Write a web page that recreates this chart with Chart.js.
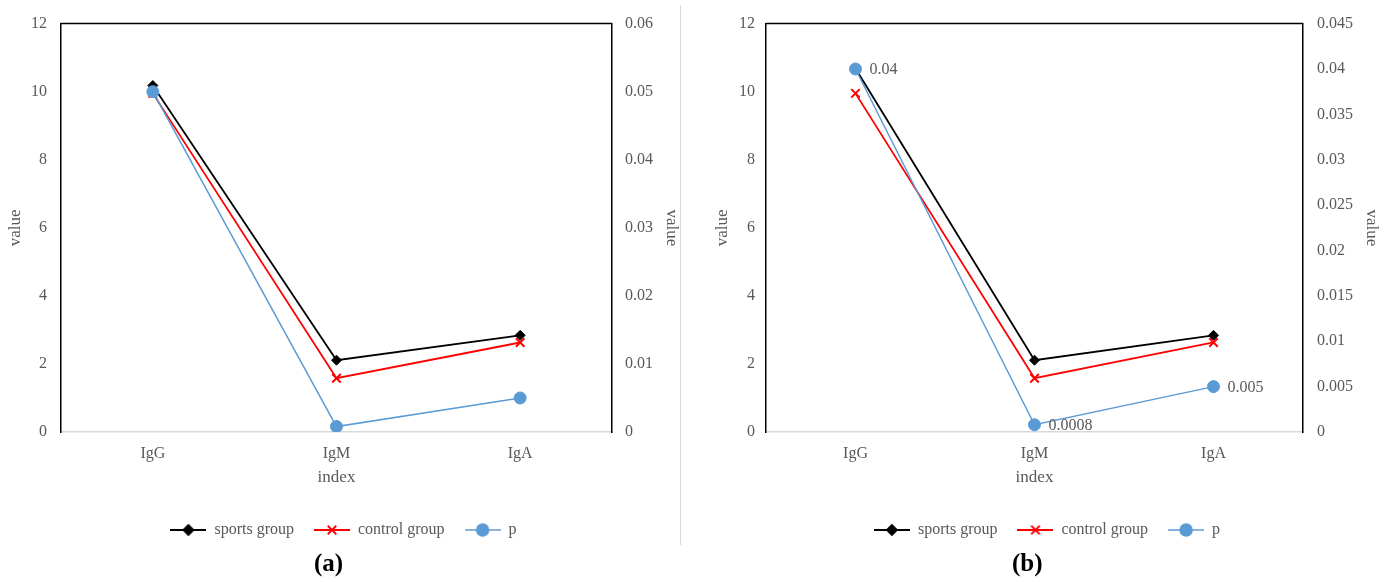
<!DOCTYPE html>
<html>
<head>
<meta charset="utf-8">
<script src="https://cdn.jsdelivr.net/npm/chart.js@4.4.0/dist/chart.umd.min.js"></script>
<style>
  body { margin: 0; background: #fff; width: 1391px; height: 582px; position: relative; overflow: hidden; }
  .box { position: absolute; top: 0; height: 550px; }
  #boxA { left: 0; width: 680px; }
  #boxB { left: 681px; width: 710px; }
  .divider { position: absolute; left: 680px; top: 5px; width: 1px; height: 540px; background: #d9d9d9; }
  .tag { position: absolute; top: 549px; font: bold 25px "Liberation Serif", serif; color: #000; }
</style>
</head>
<body>
<div class="box" id="boxA"><canvas id="chartA" width="680" height="550"></canvas></div>
<div class="divider"></div>
<div class="box" id="boxB"><canvas id="chartB" width="710" height="550"></canvas></div>
<div class="tag" style="left:314px">(a)</div>
<div class="tag" style="left:1012px">(b)</div>
<script>
const categories = ['IgG', 'IgM', 'IgA']
const seriesNames = ['sports group', 'control group', 'p']

// figure (a)
const sportsA = [10.18, 2.11, 2.84]
const controlA = [9.95, 1.58, 2.63]
const pA = [0.05, 0.0008, 0.005]

// figure (b)
const sportsB = [10.68, 2.11, 2.84]
const controlB = [9.95, 1.58, 2.63]
const pB = [0.04, 0.0008, 0.005]
const pLabelsB = ['0.04', '0.0008', '0.005']

const leftTicks = ['0', '2', '4', '6', '8', '10', '12']
const rightTicksA = ['0', '0.01', '0.02', '0.03', '0.04', '0.05', '0.06']
const rightTicksB = ['0', '0.005', '0.01', '0.015', '0.02', '0.025', '0.03', '0.035', '0.04', '0.045']

const gray = '#595959'
const serif = '"Liberation Serif", "Times New Roman", serif'

const styles = [
    { color: '#000000', pointStyle: 'rectRot', radius: 5, width: 1.8, pointBorder: 1 },
    { color: '#ff0000', pointStyle: 'crossRot', radius: 6, width: 1.8, pointBorder: 2 },
    { color: '#5b9bd5', pointStyle: 'circle', radius: 6, width: 1.5, pointBorder: 1 }
]

function legendIcon(st) {
    const c = document.createElement('canvas')
    c.width = 36
    c.height = 14
    const g = c.getContext('2d')
    g.strokeStyle = st.color
    g.lineWidth = st.width
    g.beginPath()
    g.moveTo(0, 7)
    g.lineTo(36, 7)
    g.stroke()
    g.fillStyle = st.color
    Chart.helpers.drawPoint(g, {
        pointStyle: st.pointStyle,
        radius: st.radius,
        borderWidth: st.pointBorder,
        rotation: 0
    }, 18, 7)
    if (st.pointStyle !== 'crossRot') g.fill()
    return c
}

const frame = {
    id: 'frame',
    afterDraw(chart) {
        const { ctx, chartArea } = chart
        ctx.save()
        ctx.strokeStyle = '#000'
        ctx.lineWidth = 1.5
        ctx.beginPath()
        ctx.moveTo(chartArea.left, chartArea.top)
        ctx.lineTo(chartArea.right, chartArea.top)
        ctx.stroke()
        ctx.restore()
    }
}

const pointText = {
    id: 'pointText',
    afterDatasetsDraw(chart, args, opts) {
        if (!opts.labels) return
        const meta = chart.getDatasetMeta(2)
        const ctx = chart.ctx
        ctx.save()
        ctx.font = '16px ' + serif
        ctx.fillStyle = gray
        ctx.textAlign = 'left'
        ctx.textBaseline = 'middle'
        meta.data.forEach((pt, i) => {
            ctx.fillText(opts.labels[i], pt.x + 14, pt.y + 1)
        })
        ctx.restore()
    }
}

function makeDataset(i, values, axis) {
    const st = styles[i]
    return {
        label: seriesNames[i],
        data: values,
        yAxisID: axis,
        borderColor: st.color,
        backgroundColor: st.color,
        borderWidth: st.width,
        pointStyle: st.pointStyle,
        pointRadius: st.radius,
        pointBorderWidth: st.pointBorder,
        pointBackgroundColor: st.color,
        pointBorderColor: st.color,
        tension: 0,
        order: 3 - i
    }
}

function criarGrafico(canvasId, sports, control, p, rightTicks, rightMax, rightStep, cfg) {
    const ctx = document.getElementById(canvasId)
    return new Chart(ctx, {
        type: 'line',
        data: {
            labels: categories,
            datasets: [
                makeDataset(0, sports, 'y'),
                makeDataset(1, control, 'y'),
                makeDataset(2, p, 'y1')
            ]
        },
        options: {
            responsive: false,
            animation: false,
            layout: { padding: { top: 22, left: cfg.padLeft, right: cfg.padRight, bottom: 2 } },
            plugins: {
                tooltip: { enabled: false },
                pointText: { labels: cfg.pointLabels },
                legend: {
                    position: 'bottom',
                    labels: {
                        usePointStyle: true,
                        pointStyleWidth: 36,
                        padding: 20,
                        color: gray,
                        font: { family: serif, size: 16 },
                        generateLabels: chart => chart.data.datasets.map((ds, i) => ({
                            text: ds.label,
                            pointStyle: legendIcon(styles[i]),
                            fillStyle: ds.borderColor,
                            strokeStyle: ds.borderColor,
                            fontColor: gray,
                            lineWidth: 0,
                            hidden: false,
                            datasetIndex: i
                        }))
                    }
                }
            },
            scales: {
                x: {
                    type: 'category',
                    offset: true,
                    grid: { display: false, drawTicks: false },
                    border: { color: '#d9d9d9', width: 1.5 },
                    ticks: { color: gray, padding: 12, font: { family: serif, size: 16 } },
                    title: {
                        display: true, text: 'index', color: gray,
                        font: { family: serif, size: 17, lineHeight: 1 },
                        padding: { top: 0, bottom: 16 }
                    },
                    afterFit: s => { s.height = 70 }
                },
                y: {
                    position: 'left',
                    min: 0, max: 12,
                    grid: { display: false, drawTicks: false },
                    border: { color: '#000', width: 1.5 },
                    ticks: {
                        stepSize: 2, color: gray, padding: cfg.leftPad,
                        font: { family: serif, size: 16 },
                        callback: (v, i) => leftTicks[i]
                    },
                    title: {
                        display: true, text: 'value', color: gray,
                        font: { family: serif, size: 17, lineHeight: 1 },
                        padding: 0
                    },
                    afterFit: s => { s.width = cfg.leftWidth }
                },
                y1: {
                    position: 'right',
                    min: 0, max: rightMax,
                    grid: { display: false, drawTicks: false },
                    border: { color: '#000', width: 1.5 },
                    ticks: {
                        stepSize: rightStep, color: gray, padding: cfg.rightPad,
                        font: { family: serif, size: 16 },
                        callback: (v, i) => rightTicks[i]
                    },
                    title: {
                        display: true, text: 'value', color: gray,
                        font: { family: serif, size: 17, lineHeight: 1 },
                        padding: 0
                    },
                    afterFit: s => { s.width = cfg.rightWidth }
                }
            }
        },
        plugins: [frame, pointText]
    })
}

criarGrafico('chartA', sportsA, controlA, pA, rightTicksA, 0.06, 0.01,
    { padLeft: 7, padRight: 0, leftWidth: 54, rightWidth: 68, leftPad: 14, rightPad: 13, pointLabels: null })

criarGrafico('chartB', sportsB, controlB, pB, rightTicksB, 0.045, 0.005,
    { padLeft: 33, padRight: 11, leftWidth: 52, rightWidth: 77, leftPad: 11, rightPad: 14, pointLabels: pLabelsB })
</script>
</body>
</html>
